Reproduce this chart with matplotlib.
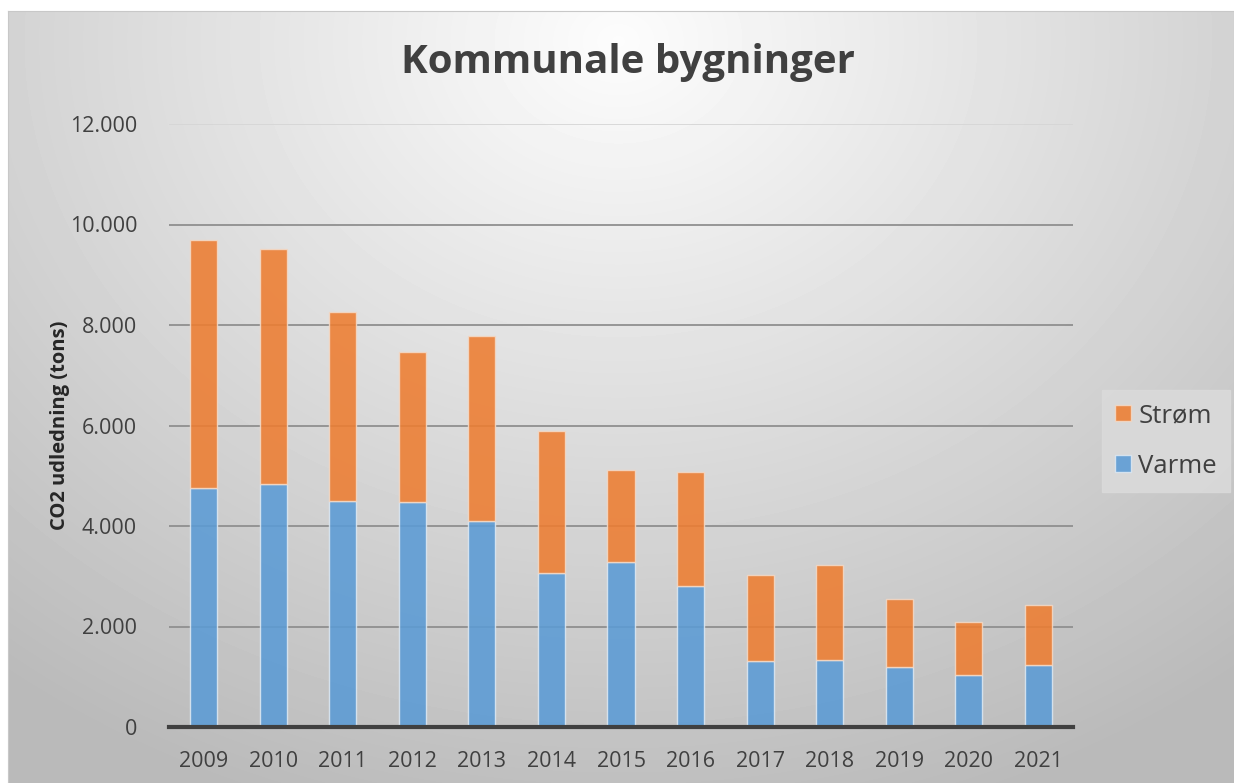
import matplotlib.pyplot as plt
import numpy as np
from matplotlib.ticker import FuncFormatter
from matplotlib.patches import Patch

# data (tons CO2)
years = ['2009', '2010', '2011', '2012', '2013', '2014', '2015',
         '2016', '2017', '2018', '2019', '2020', '2021']
varme = [4760, 4840, 4500, 4480, 4100, 3070, 3290, 2810, 1310, 1330, 1190, 1040, 1230]
strom = [4930, 4670, 3760, 2980, 3680, 2820, 1820, 2270, 1720, 1890, 1360, 1050, 1200]

plt.rcParams['font.family'] = ['Open Sans', 'DejaVu Sans']

fig = plt.figure(figsize=(12.34, 7.83), dpi=100)
fig.patch.set_facecolor('white')

# radial gradient background like the office chart style
bg = fig.add_axes([8 / 1234, 0, 1 - 8 / 1234, 772 / 783])
yy, xx = np.mgrid[0:772, 0:1226]
r = np.sqrt(((xx - 610) / 850.0) ** 2 + ((yy - 30) / 700.0) ** 2)
shade = 0.99 - 0.26 * np.clip(r, 0, 1.15) / 1.15
bg.imshow(shade, cmap='gray', vmin=0, vmax=1, aspect='auto', interpolation='bilinear')
bg.set_xticks([])
bg.set_yticks([])
for s in bg.spines.values():
    s.set_color('#c8c8c8')
    s.set_linewidth(0.8)

ax = fig.add_axes([169 / 1234, 56 / 783, 904 / 1234, 603 / 783])
ax.patch.set_alpha(0)

x = np.arange(len(years))
w = 0.39
ax.bar(x, varme, width=w, color='#5B9BD5', alpha=0.88, edgecolor='#dde8f2', linewidth=1.0,
       label='Varme', zorder=3)
ax.bar(x, strom, width=w, bottom=varme, color='#ED7D31', alpha=0.88, edgecolor='#f3d9c6',
       linewidth=1.0, label='Strøm', zorder=3)

ax.set_xlim(-0.5, len(years) - 0.5)
ax.set_ylim(0, 12000)
ax.set_yticks(np.arange(0, 12001, 2000))
ax.yaxis.set_major_formatter(FuncFormatter(lambda v, p: f'{int(v):,}'.replace(',', '.')))
ax.set_xticks(x)
ax.set_xticklabels(years)
ax.tick_params(axis='both', length=0, labelsize=15.5, labelcolor='#404040')
ax.tick_params(axis='y', pad=23)
ax.tick_params(axis='x', pad=17)

ax.grid(axis='y', color='#8f8f8f', linewidth=1.3, zorder=1)
ax.get_ygridlines()[-1].set_color('#d6d6d6')
ax.set_axisbelow(True)
for side in ['top', 'right', 'left']:
    ax.spines[side].set_visible(False)
ax.spines['bottom'].set_color('#404040')
ax.spines['bottom'].set_linewidth(3)
ax.spines['bottom'].set_zorder(4)

ax.set_ylabel('CO2 udledning (tons)', fontsize=14.5, fontweight='bold', color='#262626')
ax.yaxis.set_label_coords(-(169 - 70) / 904, 0.5)

fig.text(628 / 1234, 1 - 62 / 783, 'Kommunale bygninger', ha='center', va='center',
         fontsize=29, fontweight='bold', color='#404040')

handles = [Patch(facecolor='#ED7D31', alpha=0.88, edgecolor='#f3d9c6', label='Strøm'),
           Patch(facecolor='#5B9BD5', alpha=0.88, edgecolor='#dde8f2', label='Varme')]
leg = fig.legend(handles=handles, loc='center left', bbox_to_anchor=(1102 / 1234, 1 - 441 / 783),
                 fontsize=18.5, frameon=True, fancybox=False, handlelength=0.62, handleheight=0.62,
                 handletextpad=0.3, labelspacing=1.0, borderpad=0.5, borderaxespad=0,
                 labelcolor='#404040')
leg.get_frame().set_facecolor('#dadada')
leg.get_frame().set_edgecolor('#dadada')
leg.get_frame().set_alpha(0.9)

fig.savefig('out.png', dpi=100)
